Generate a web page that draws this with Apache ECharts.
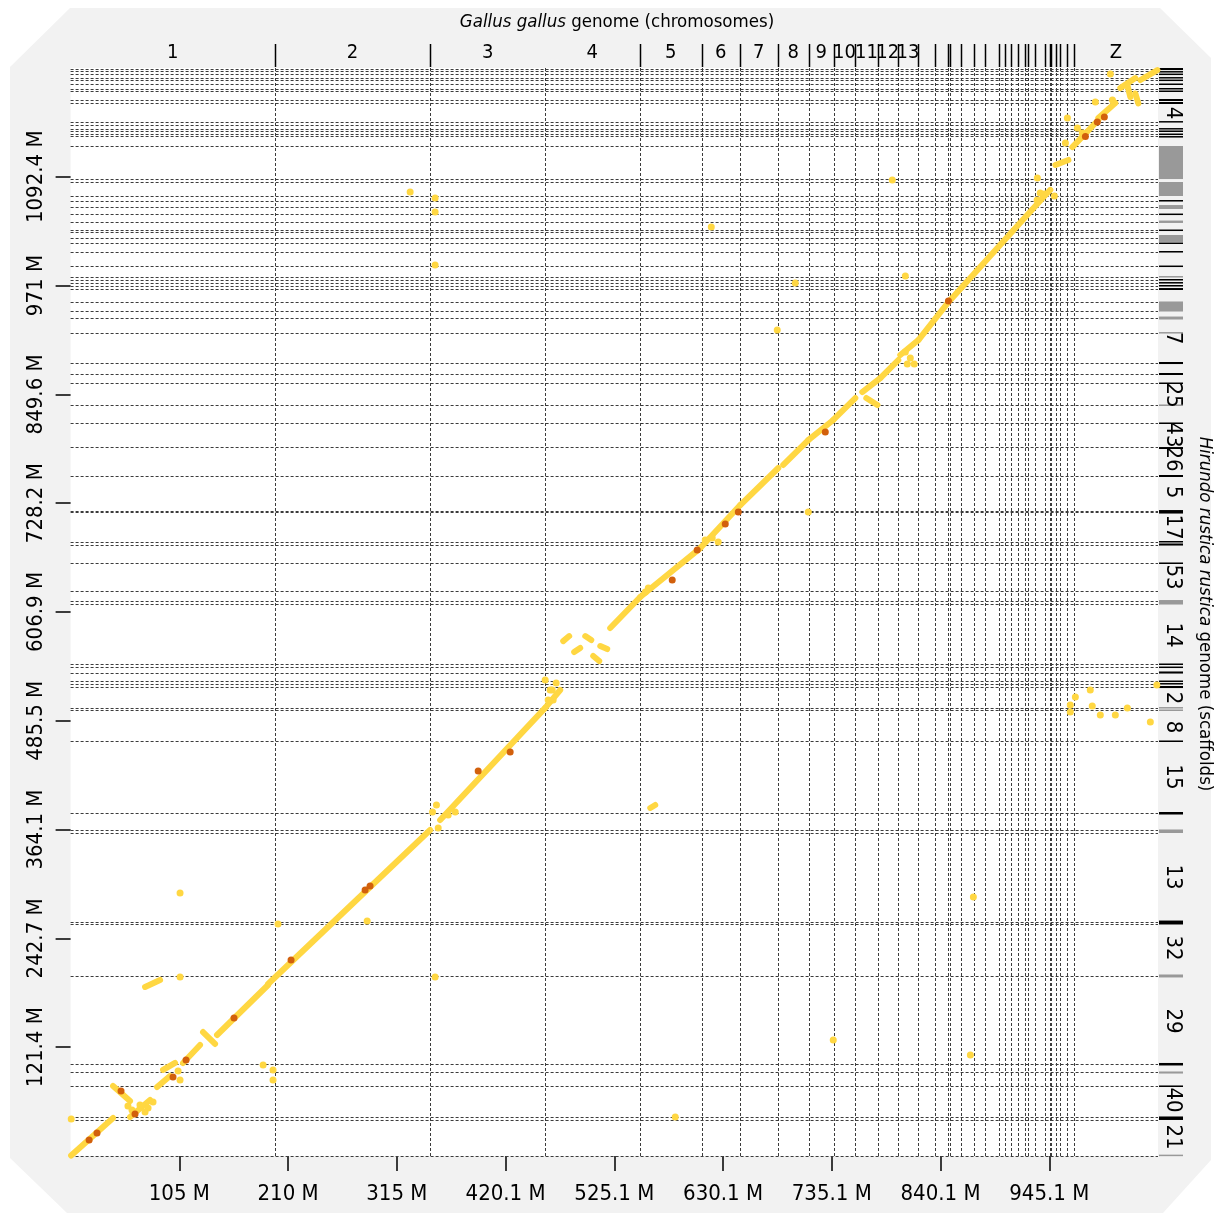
<!DOCTYPE html>
<html>
<head>
<meta charset="utf-8">
<script src="https://cdn.jsdelivr.net/npm/echarts@6/dist/echarts.min.js"></script>
<style>
  html, body { margin: 0; padding: 0; background: #fff; }
  #chart { width: 1217px; height: 1215px; }
</style>
</head>
<body>
<div id="chart"></div>
<script>
// Gallus gallus (x, chromosomes) vs Hirundo rustica (y, scaffolds) dotplot, values in Mb
var xTotal = 1050.1;
var xTickStep = 105.01;
var xTickLabels = ["105 M", "210 M", "315 M", "420.1 M", "525.1 M", "630.1 M", "735.1 M", "840.1 M", "945.1 M"];
var yTotal = 1213.9;
var yTickStep = 121.39;
var yTickLabels = ["121.4 M", "242.7 M", "364.1 M", "485.5 M", "606.9 M", "728.2 M", "849.6 M", "971 M", "1092.4 M"];

var xChromNames = ["1", "2", "3", "4", "5", "6", "7", "8", "9", "10", "11", "12", "13",
  "", "", "", "", "", "", "", "", "", "", "", "", "", "", "", "", "", "", "", "", "Z"];
var xChromEnds = [197.4, 347.2, 458.3, 549.4, 609.6, 646.0, 683.1, 712.8, 736.8, 757.7, 779.3, 799.0, 818.3,
  834.3, 847.3, 849.5, 860.2, 872.1, 883.4, 896.3, 902.1, 908.3, 915.1, 921.2, 924.4, 931.8, 940.5, 945.4,
  947.0, 951.8, 955.9, 962.4, 968.8, 1050.1];
var topTickHidden = [2]; // no top mark between 3 and 4

var yScaffoldBounds = [0, 40.7, 43.0, 78.1, 93.2, 102.6, 200.8, 258.8, 261.1, 360.9, 363.7, 382.7, 463.0,
  497.6, 499.8, 523.3, 526.6, 530.0, 539.4, 545.6, 549.0, 615.9, 619.2, 630.4, 661.6, 681.7, 685.0, 718.0,
  719.6, 758.7, 791.0, 817.8, 837.9, 862.5, 872.5, 885.1, 918.2, 935.0, 942.8, 952.8, 967.3, 970.6, 974.0,
  977.3, 980.7, 993.0, 1008.6, 1018.6, 1024.2, 1030.9, 1033.1, 1042.0, 1051.0, 1058.8, 1065.8, 1071.1,
  1086.7, 1090.1, 1126.9, 1137.5, 1140.3, 1143.6, 1145.8, 1150.3, 1154.0, 1174.9, 1178.2, 1188.2, 1190.5,
  1196.0, 1200.6, 1202.8, 1207.2, 1210.0, 1212.8];

var yScaffoldNames = ["4", "7", "25", "43", "26", "5", "17", "53", "14", "2", "8", "15", "13", "32", "29", "40", "21"];
var yScaffoldCenters = [1163.7, 912.6, 849.0, 804.5, 777.6, 740.8, 701.8, 646.0, 581.3, 511.0, 478.6, 422.9,
  311.3, 232.1, 150.6, 62.5, 21.2];

// right strip: [from, to, shade] shade 0 = black, 1 = grey
var stripMarks = [
  [1211.6, 1213.9, 0], [1208.9, 1210.5, 0], [1206.1, 1207.7, 0], [1202.2, 1203.8, 0], [1199.4, 1201.0, 0],
  [1194.9, 1196.6, 0], [1189.9, 1191.6, 0], [1187.1, 1188.8, 0], [1177.1, 1179.3, 0], [1173.7, 1176.0, 0],
  [1153.1, 1154.7, 0], [1145.3, 1146.9, 0], [1142.5, 1144.2, 0], [1139.1, 1140.8, 0], [1136.3, 1138.0, 0],
  [1090.0, 1126.9, 1], [1071.1, 1086.7, 1], [1064.9, 1066.6, 0], [1056.6, 1061.0, 1], [1049.9, 1051.5, 0],
  [1041.0, 1043.7, 1], [1032.0, 1033.7, 0], [1019.8, 1027.6, 1], [1017.5, 1019.2, 0], [1008.0, 1009.7, 0],
  [991.9, 993.5, 0], [980.2, 981.8, 1], [976.8, 978.5, 0], [973.4, 975.1, 0], [970.1, 971.8, 0],
  [966.2, 968.4, 0], [942.2, 953.4, 1], [933.3, 936.6, 1], [917.7, 919.3, 1], [883.6, 885.9, 0],
  [871.4, 873.6, 0], [861.3, 863.0, 0], [836.8, 838.5, 1], [816.7, 818.4, 0], [788.8, 791.0, 0],
  [757.6, 759.8, 0], [716.8, 720.7, 0], [684.5, 686.2, 0], [681.1, 683.4, 0], [660.5, 662.2, 0],
  [615.3, 620.3, 1], [547.8, 549.5, 0], [544.5, 546.1, 0], [538.3, 540.6, 0], [528.8, 530.5, 0],
  [526.1, 527.7, 0], [522.1, 524.4, 0], [499.3, 500.9, 1], [496.5, 498.2, 1], [461.9, 463.6, 0],
  [381.0, 383.8, 0], [360.4, 364.3, 1], [258.3, 262.7, 0], [199.2, 202.5, 1], [101.0, 103.8, 0],
  [92.0, 94.3, 1], [77.0, 78.7, 0], [40.2, 44.1, 0], [0, 1.5, 1]
];

// aligned blocks: [x1, y1, x2, y2]
var segments = [
  [0.5, 0.5, 41.0, 42.4], [41.0, 78.1, 57.4, 61.4], [57.4, 43.5, 76.7, 62.5], [83.5, 77.0, 96.0, 89.3],
  [89.3, 96.0, 100.9, 103.8], [108.6, 103.8, 125.0, 123.8], [127.9, 138.3, 139.5, 125.0],
  [141.4, 135.0, 190.7, 190.8], [71.9, 188.6, 86.4, 196.4], [190.7, 191.9, 347.2, 363.7],
  [356.9, 374.9, 458.3, 500.0], [458.3, 500.0, 472.8, 519.9], [521.1, 589.1, 550.1, 623.7],
  [550.1, 623.7, 608.1, 678.3], [608.1, 678.3, 646.7, 726.3], [646.7, 726.3, 683.4, 767.6],
  [688.2, 771.0, 712.4, 798.8], [712.4, 798.8, 736.5, 821.2], [736.5, 821.2, 757.8, 845.7],
  [764.5, 852.4, 781.9, 868.0], [781.9, 868.0, 799.3, 888.1], [801.2, 893.7, 818.7, 910.4],
  [818.7, 910.4, 847.7, 952.8], [849.6, 955.0, 941.3, 1072.2], [941.3, 1072.2, 946.1, 1077.8],
  [967.4, 1125.7, 992.5, 1155.9], [992.5, 1158.1, 1008.9, 1174.8], [1013.7, 1191.6, 1028.2, 1202.7],
  [1033.1, 1200.5, 1049.5, 1211.6], [559.8, 388.3, 564.6, 391.6], [768.4, 845.7, 779.1, 837.9],
  [951.0, 1105.7, 963.6, 1111.3], [1028.2, 1185.5, 1031.1, 1174.4], [1020.5, 1194.9, 1023.4, 1181.5],
  [475.7, 574.5, 481.5, 580.1], [486.3, 562.3, 492.1, 566.8], [497.0, 580.1, 502.8, 575.7],
  [504.7, 557.9, 510.5, 552.3], [511.5, 569.0, 518.2, 565.6]
];

var yellowDots = [
  [327.9, 1075.5], [352.0, 1068.8], [352.0, 1053.2], [352.0, 994.1], [618.7, 1036.5], [793.5, 1088.9],
  [806.1, 981.8], [699.8, 974.0], [682.4, 921.6], [712.4, 718.5], [736.5, 129.4], [868.9, 112.7],
  [871.8, 289.0], [583.9, 43.5], [352.0, 199.7], [105.7, 199.7], [105.7, 293.4], [185.9, 101.5],
  [195.5, 96.0], [195.5, 84.8], [200.3, 258.8], [0.6, 41.3],
  [970.3, 512.1], [965.4, 503.2], [965.4, 495.4], [984.7, 519.9], [986.6, 502.1], [994.4, 492.0],
  [1008.9, 492.0], [1020.5, 499.8], [1042.7, 484.2], [1049.0, 525.5],
  [465.1, 519.9], [461.2, 508.8], [349.5, 383.8], [353.3, 391.6], [364.6, 380.5], [371.4, 383.8],
  [355.0, 365.9], [612.9, 687.3], [619.6, 689.6], [625.4, 685.1], [806.1, 897.0], [810.9, 890.3],
  [814.7, 883.6], [808.0, 883.6], [936.3, 1074.4], [933.4, 1066.6], [555.0, 629.3], [557.9, 633.7],
  [458.3, 531.1], [463.1, 519.9], [468.9, 527.7], [466.0, 508.8],
  [103.8, 94.8], [105.7, 84.8], [67.0, 56.9], [74.8, 53.6], [79.6, 60.2], [71.9, 49.1], [55.4, 55.8],
  [59.3, 51.3], [286.4, 262.2], [1004.1, 1207.2], [989.6, 1176.0], [1006.1, 1178.2], [962.6, 1158.1],
  [972.3, 1146.9], [977.0, 1141.3], [960.7, 1130.2], [933.6, 1091.2], [940.3, 1073.3], [950.0, 1071.1]
];

var orangeDots = [
  [17.9, 17.9], [25.5, 25.7], [48.7, 72.5], [62.2, 46.9], [98.9, 88.1], [111.5, 107.1], [157.8, 154.0],
  [212.9, 218.7], [284.4, 296.8], [289.2, 301.2], [393.6, 429.6], [424.5, 450.8], [581.0, 642.7],
  [605.1, 676.1], [632.2, 705.1], [644.8, 718.5], [728.8, 807.8], [847.7, 953.9], [980.0, 1137.5],
  [991.5, 1153.6], [998.3, 1159.2]
];

var FONT = '"Liberation Sans Narrow", "DejaVu Sans Condensed", "DejaVu Sans", sans-serif';
var YELLOW = "#FFD742";
var ORANGE = "#D2600C";
var DASH = "#3c3c3c";

var chart = echarts.init(document.getElementById("chart"), null, { renderer: "canvas" });

function tickLabel(list, step) {
  return function (value) {
    var k = Math.round(value / step);
    return list[k - 1] || "";
  };
}

function renderVLine(params, api) {
  var cs = params.coordSys;
  var x = Math.round(api.coord([api.value(0), 0])[0]) + 0.5;
  return {
    type: "line",
    shape: { x1: x, y1: cs.y, x2: x, y2: cs.y + cs.height },
    style: { stroke: DASH, lineWidth: 1, lineDash: [3, 2] }
  };
}

function renderHLine(params, api) {
  var cs = params.coordSys;
  var y = Math.round(api.coord([0, api.value(1)])[1]) + 0.5;
  return {
    type: "line",
    shape: { x1: cs.x, y1: y, x2: cs.x + cs.width, y2: y },
    style: { stroke: DASH, lineWidth: 1, lineDash: [3, 2] }
  };
}

function renderTop(params, api) {
  var i = params.dataIndex;
  var cs = params.coordSys;
  var start = i === 0 ? 0 : xChromEnds[i - 1];
  var x0 = api.coord([start, 0])[0];
  var x1 = api.coord([xChromEnds[i], 0])[0];
  var children = [];
  if (xChromNames[i]) {
    children.push({
      type: "text",
      x: (x0 + x1) / 2,
      y: cs.y - 15,
      style: { text: xChromNames[i], fontSize: 20, fontFamily: FONT, fill: "#000", align: "center", verticalAlign: "middle" }
    });
  }
  if (i < xChromEnds.length - 1 && topTickHidden.indexOf(i) < 0) {
    var xt = Math.round(x1) + 0.5;
    children.push({
      type: "line",
      shape: { x1: xt, y1: cs.y - 24, x2: xt, y2: cs.y - 1 },
      style: { stroke: "#000", lineWidth: 1.5 }
    });
  }
  return { type: "group", children: children };
}

function renderStrip(params, api) {
  var cs = params.coordSys;
  var yA = api.coord([0, api.value(1)])[1];
  var yB = api.coord([0, api.value(0)])[1];
  var h = Math.max(yB - yA, 1.5);
  return {
    type: "rect",
    shape: { x: cs.x + cs.width + 1, y: yA, width: 24, height: h },
    style: { fill: api.value(2) ? "#999" : "#000" }
  };
}

function renderRightLabel(params, api) {
  var cs = params.coordSys;
  var y = api.coord([0, api.value(1)])[1];
  return {
    type: "text",
    x: cs.x + cs.width + 15,
    y: y,
    rotation: -Math.PI / 2,
    style: {
      text: yScaffoldNames[params.dataIndex], fontSize: 22, fontFamily: FONT, fill: "#000",
      align: "center", verticalAlign: "middle"
    }
  };
}

var option = {
  animation: false,
  graphic: [
    {
      type: "polygon",
      z: -100,
      shape: { points: [[70, 8], [1160, 8], [1211, 58], [1211, 1160], [1163, 1213], [67, 1213], [10, 1158], [10, 67]] },
      style: { fill: "#f2f2f2" }
    },
    {
      type: "text",
      x: 617,
      y: 22,
      style: {
        text: "{i|Gallus gallus} genome (chromosomes)",
        fontSize: 18.5, fontFamily: FONT, fill: "#000", align: "center", verticalAlign: "middle",
        rich: { i: { fontStyle: "italic", fontSize: 18.5, fontFamily: FONT } }
      }
    },
    {
      type: "text",
      x: 1205,
      y: 614,
      rotation: -Math.PI / 2,
      style: {
        text: "{i|Hirundo rustica rustica} genome (scaffolds)",
        fontSize: 18.5, fontFamily: FONT, fill: "#000", align: "center", verticalAlign: "middle",
        rich: { i: { fontStyle: "italic", fontSize: 18.5, fontFamily: FONT } }
      }
    }
  ],
  grid: {
    left: 70.6, top: 68, width: 1087.4, height: 1088,
    show: true, backgroundColor: "#fff", borderWidth: 0
  },
  xAxis: {
    type: "value", min: 0, max: xTotal, interval: xTickStep,
    axisLine: { show: false }, splitLine: { show: false },
    axisTick: { show: true, length: 15, lineStyle: { color: "#000", width: 1.5 } },
    axisLabel: {
      showMinLabel: false, showMaxLabel: false, margin: 27,
      fontSize: 22, fontFamily: FONT, color: "#000",
      formatter: tickLabel(xTickLabels, xTickStep)
    }
  },
  yAxis: {
    type: "value", min: 0, max: yTotal, interval: yTickStep,
    axisLine: { show: false }, splitLine: { show: false },
    axisTick: { show: true, length: 15, lineStyle: { color: "#000", width: 1.5 } },
    axisLabel: {
      showMinLabel: false, showMaxLabel: false, margin: 23, rotate: 90,
      fontSize: 22, fontFamily: FONT, color: "#000",
      formatter: tickLabel(yTickLabels, yTickStep)
    }
  },
  series: [
    {
      type: "custom", clip: false, silent: true, z: 1,
      data: xChromEnds.slice(0, -1).map(function (v) { return [v, 0]; }),
      renderItem: renderVLine
    },
    {
      type: "custom", clip: false, silent: true, z: 1,
      data: yScaffoldBounds.map(function (v) { return [0, v]; }),
      renderItem: renderHLine
    },
    {
      type: "custom", clip: false, silent: true, z: 1,
      data: xChromEnds.map(function (v) { return [v, 0]; }),
      renderItem: renderTop
    },
    {
      type: "custom", clip: false, silent: true, z: 1,
      data: stripMarks,
      renderItem: renderStrip
    },
    {
      type: "custom", clip: false, silent: true, z: 1,
      data: yScaffoldCenters.map(function (v) { return [0, v]; }),
      renderItem: renderRightLabel
    },
    {
      type: "lines", coordinateSystem: "cartesian2d", polyline: false, silent: true, z: 3,
      data: segments.map(function (s) { return { coords: [[s[0], s[1]], [s[2], s[3]]] }; }),
      lineStyle: { color: YELLOW, width: 6, opacity: 1, cap: "round" }
    },
    {
      type: "scatter", silent: true, z: 4, symbolSize: 7,
      itemStyle: { color: YELLOW, opacity: 1 },
      data: yellowDots
    },
    {
      type: "scatter", silent: true, z: 5, symbolSize: 7,
      itemStyle: { color: ORANGE, opacity: 1 },
      data: orangeDots
    }
  ]
};

chart.setOption(option);
</script>
</body>
</html>
